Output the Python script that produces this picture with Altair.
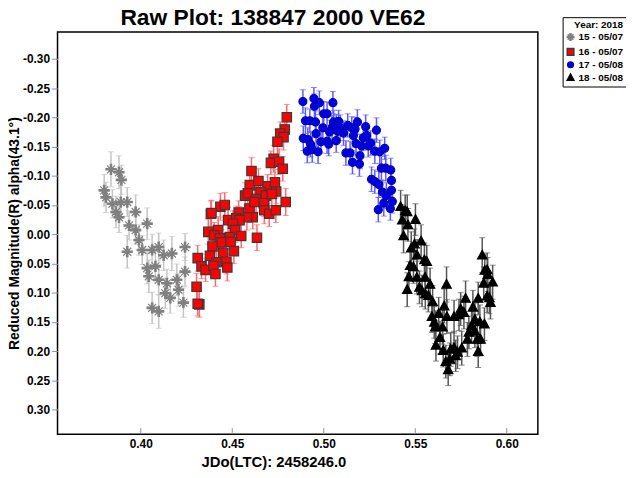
import altair as alt
import pandas as pd

series_labels = ["15 - 05/07", "16 - 05/07", "17 - 05/08", "18 - 05/08"]

# (JD offset, reduced magnitude, error)
s15 = [
    (0.3837, -0.111, 0.030), (0.3881, -0.106, 0.028), (0.3894, -0.093, 0.025), (0.3800, -0.075, 0.027),
    (0.3810, -0.063, 0.026), (0.3845, -0.052, 0.024), (0.3891, -0.055, 0.028), (0.3926, -0.055, 0.025),
    (0.3864, -0.038, 0.027), (0.3881, -0.029, 0.026), (0.3972, -0.038, 0.029), (0.3936, -0.015, 0.025),
    (0.4035, -0.018, 0.027), (0.3972, -0.007, 0.024), (0.3990, 0.010, 0.026), (0.3926, 0.030, 0.028),
    (0.4008, 0.027, 0.025), (0.4062, 0.027, 0.027), (0.4098, 0.022, 0.024), (0.4125, 0.036, 0.026),
    (0.4170, 0.033, 0.029), (0.4242, 0.022, 0.023), (0.4035, 0.058, 0.027), (0.4080, 0.055, 0.025),
    (0.4044, 0.072, 0.028), (0.4098, 0.078, 0.026), (0.4143, 0.084, 0.024), (0.4197, 0.078, 0.027),
    (0.4242, 0.064, 0.025), (0.4134, 0.101, 0.026), (0.4206, 0.095, 0.028), (0.4233, 0.117, 0.025),
    (0.4062, 0.126, 0.027), (0.4098, 0.132, 0.029), (0.4161, 0.109, 0.026),
]
s16 = [
    (0.4798, -0.200, 0.022), (0.4787, -0.179, 0.021), (0.4762, -0.172, 0.020), (0.4780, -0.166, 0.022),
    (0.4747, -0.158, 0.021), (0.4726, -0.129, 0.023), (0.4711, -0.122, 0.020), (0.4756, -0.124, 0.022),
    (0.4776, -0.112, 0.021), (0.4605, -0.108, 0.023), (0.4596, -0.084, 0.022), (0.4643, -0.091, 0.021),
    (0.4693, -0.082, 0.020), (0.4733, -0.089, 0.022), (0.4740, -0.073, 0.021), (0.4792, -0.055, 0.023),
    (0.4570, -0.066, 0.022), (0.4585, -0.070, 0.021), (0.4654, -0.072, 0.020), (0.4630, -0.060, 0.022),
    (0.4684, -0.066, 0.021), (0.4672, -0.053, 0.023), (0.4716, -0.069, 0.020), (0.4594, -0.044, 0.022),
    (0.4621, -0.055, 0.021), (0.4675, -0.041, 0.023), (0.4702, -0.035, 0.022), (0.4738, -0.041, 0.021),
    (0.4612, -0.029, 0.020), (0.4580, -0.029, 0.022), (0.4435, -0.047, 0.023), (0.4459, -0.050, 0.021),
    (0.4383, -0.035, 0.022), (0.4535, -0.037, 0.020), (0.4477, -0.024, 0.022), (0.4522, -0.027, 0.021),
    (0.4540, -0.024, 0.023), (0.4504, -0.018, 0.022), (0.4516, -0.007, 0.021), (0.4549, 0.003, 0.020),
    (0.4635, 0.006, 0.022), (0.4369, -0.004, 0.021), (0.4423, -0.007, 0.023), (0.4401, 0.002, 0.022),
    (0.4432, 0.007, 0.021), (0.4486, 0.005, 0.020), (0.4441, 0.014, 0.022), (0.4491, 0.013, 0.021),
    (0.4392, 0.021, 0.023), (0.4450, 0.032, 0.022), (0.4509, 0.029, 0.021), (0.4378, 0.037, 0.020),
    (0.4413, 0.048, 0.022), (0.4468, 0.047, 0.021), (0.4473, 0.057, 0.023), (0.4311, 0.041, 0.022),
    (0.4332, 0.055, 0.021), (0.4354, 0.061, 0.020), (0.4397, 0.054, 0.022), (0.4408, 0.068, 0.021),
    (0.4305, 0.090, 0.023), (0.4320, 0.120, 0.022), (0.4311, 0.119, 0.021), (0.4386, -0.036, 0.022),
]
s17 = [
    (0.4886, -0.227, 0.020), (0.4946, -0.232, 0.019), (0.4949, -0.219, 0.021), (0.4976, -0.225, 0.020),
    (0.5050, -0.225, 0.019), (0.5000, -0.206, 0.021), (0.5018, -0.206, 0.020), (0.4900, -0.194, 0.022),
    (0.4924, -0.194, 0.020), (0.4955, -0.192, 0.019), (0.4995, -0.182, 0.021), (0.5054, -0.192, 0.020),
    (0.5081, -0.193, 0.019), (0.5045, -0.182, 0.021), (0.5068, -0.185, 0.020), (0.5090, -0.182, 0.022),
    (0.5131, -0.186, 0.020), (0.5153, -0.182, 0.019), (0.5184, -0.192, 0.021), (0.5229, -0.184, 0.020),
    (0.5288, -0.178, 0.021), (0.5171, -0.180, 0.020), (0.4958, -0.172, 0.022), (0.5032, -0.175, 0.020),
    (0.5077, -0.176, 0.019), (0.5108, -0.173, 0.021), (0.5162, -0.169, 0.020), (0.5216, -0.165, 0.022),
    (0.5234, -0.169, 0.020), (0.4888, -0.164, 0.021), (0.4913, -0.162, 0.020), (0.4985, -0.158, 0.019),
    (0.5018, -0.159, 0.021), (0.5068, -0.160, 0.020), (0.4928, -0.154, 0.022), (0.5027, -0.154, 0.020),
    (0.5176, -0.155, 0.021), (0.5207, -0.151, 0.020), (0.5243, -0.151, 0.019), (0.5256, -0.156, 0.021),
    (0.4910, -0.142, 0.020), (0.4937, -0.145, 0.022), (0.4969, -0.141, 0.020), (0.5279, -0.142, 0.021),
    (0.5306, -0.141, 0.020), (0.5333, -0.147, 0.019), (0.5121, -0.139, 0.021), (0.5144, -0.139, 0.020),
    (0.5198, -0.134, 0.022), (0.5157, -0.123, 0.020), (0.5195, -0.120, 0.021), (0.5315, -0.113, 0.020),
    (0.5339, -0.113, 0.022), (0.5366, -0.110, 0.020), (0.5261, -0.094, 0.021), (0.5279, -0.090, 0.020),
    (0.5301, -0.085, 0.022), (0.5370, -0.092, 0.021), (0.5321, -0.072, 0.020), (0.5342, -0.066, 0.022),
    (0.5370, -0.075, 0.021), (0.5375, -0.056, 0.020), (0.5328, -0.053, 0.022), (0.5298, -0.042, 0.021),
    (0.5364, -0.044, 0.020),
]
s18 = [
    (0.5420, -0.047, 0.028), (0.5445, -0.040, 0.027), (0.5456, -0.038, 0.029), (0.5429, -0.024, 0.026),
    (0.5460, -0.016, 0.028), (0.5501, -0.025, 0.027), (0.5436, 0.003, 0.029), (0.5478, 0.024, 0.028),
    (0.5496, 0.017, 0.026), (0.5532, 0.012, 0.028), (0.5510, 0.036, 0.027), (0.5550, 0.044, 0.029),
    (0.5563, 0.047, 0.028), (0.5472, 0.054, 0.027), (0.5490, 0.056, 0.028), (0.5465, 0.073, 0.026),
    (0.5509, 0.074, 0.028), (0.5554, 0.074, 0.027), (0.5456, 0.095, 0.029), (0.5523, 0.091, 0.028),
    (0.5537, 0.097, 0.027), (0.5581, 0.086, 0.028), (0.5555, 0.102, 0.026), (0.5572, 0.105, 0.028),
    (0.5671, 0.086, 0.030), (0.5595, 0.116, 0.028), (0.5658, 0.123, 0.029), (0.5591, 0.141, 0.027),
    (0.5628, 0.136, 0.028), (0.5673, 0.141, 0.029), (0.5712, 0.141, 0.028), (0.5739, 0.138, 0.027),
    (0.5766, 0.134, 0.028), (0.5775, 0.110, 0.030), (0.5748, 0.128, 0.028), (0.5815, 0.125, 0.029),
    (0.5844, 0.110, 0.028), (0.5604, 0.151, 0.027), (0.5609, 0.159, 0.028), (0.5649, 0.159, 0.029),
    (0.5635, 0.177, 0.028), (0.5613, 0.190, 0.027), (0.5653, 0.199, 0.028), (0.5694, 0.197, 0.029),
    (0.5712, 0.194, 0.028), (0.5721, 0.208, 0.027), (0.5731, 0.202, 0.028), (0.5754, 0.195, 0.029),
    (0.5667, 0.218, 0.028), (0.5680, 0.232, 0.027), (0.5689, 0.214, 0.028), (0.5785, 0.180, 0.029),
    (0.5793, 0.168, 0.028), (0.5808, 0.157, 0.027), (0.5826, 0.166, 0.028), (0.5839, 0.180, 0.029),
    (0.5857, 0.180, 0.028), (0.5844, 0.201, 0.027), (0.5826, 0.146, 0.028), (0.5853, 0.150, 0.029),
    (0.5878, 0.154, 0.028), (0.5866, 0.036, 0.030), (0.5880, 0.062, 0.028), (0.5893, 0.061, 0.029),
    (0.5874, 0.084, 0.028), (0.5923, 0.082, 0.029), (0.5893, 0.106, 0.028), (0.5905, 0.109, 0.027),
    (0.5911, 0.117, 0.028), (0.5896, 0.069, 0.029),
]

x_ticks = [0.40, 0.45, 0.50, 0.55, 0.60]
y_ticks = [-0.30, -0.25, -0.20, -0.15, -0.10, -0.05, 0.00, 0.05, 0.10, 0.15, 0.20, 0.25, 0.30]

fills = ["#808080", "#ff0000", "#0000e0", "#000000"]
strokes = ["#808080", "#3a3a3a", "#0000b0", "#000000"]
err_colors = ["#c4c4c4", "#ff6a6a", "#5a5aff", "#555555"]
asterisk = "M0,-1.2L0,1.2M-1.2,0L1.2,0M-0.85,-0.85L0.85,0.85M-0.85,0.85L0.85,-0.85M-0.15,-1.2L-0.15,1.2M0.15,-1.2L0.15,1.2M-1.2,-0.15L1.2,-0.15M-1.2,0.15L1.2,0.15"
square = "M-1,-1L1,-1L1,1L-1,1Z"
circle = "M-0.85,0A0.85,0.85 0 1,0 0.85,0A0.85,0.85 0 1,0 -0.85,0Z"
triangle = "M0,-1.05L1,0.8L-1,0.8Z"
shapes = [asterisk, square, circle, triangle]

rows = []
for lab, pts in zip(series_labels, [s15, s16, s17, s18]):
    for x, y, e in pts:
        rows.append({"series": lab, "jd": x, "mag": y, "lo": y - e, "hi": y + e})
df = pd.DataFrame(rows)
ticks_df = pd.DataFrame({"t": x_ticks})

FONT = "Liberation Sans"
xscale = alt.Scale(domain=[0.3545, 0.617], zero=False, nice=False)
yscale = alt.Scale(domain=[-0.3458, 0.342], zero=False, nice=False, reverse=True)

xaxis = alt.Axis(
    title="JDo(LTC): 2458246.0", values=x_ticks, format=".2f", ticks=False,
    domain=False, grid=False, labelPadding=5, labelFontSize=12, labelFontWeight="bold",
    labelColor="black", titleFontSize=15, titleFontWeight="bold", titleColor="black",
    titlePadding=5, titleX=218, labelFont=FONT, titleFont=FONT,
)
yaxis = alt.Axis(
    title="Reduced Magnitude(R) alpha(43.1°)", values=y_ticks,
    labelExpr="replace(format(datum.value, '.2f'), '\u2212', '-')",
    ticks=True, tickSize=6, tickColor="#909090", tickWidth=1,
    domain=False, grid=False, labelPadding=2, labelFontSize=12, labelFontWeight="bold",
    labelColor="black", titleFontSize=14, titleFontWeight="bold", titleColor="black",
    titlePadding=1, labelFont=FONT, titleFont=FONT,
)

legend_title = "Year: 2018"
base = alt.Chart(df)

layers = []
for lab, ecol in zip(series_labels, err_colors):
    sub = base.transform_filter(alt.datum.series == lab)
    layers.append(sub.mark_rule(strokeWidth=1.5, color=ecol).encode(
        x=alt.X("jd:Q", scale=xscale, axis=xaxis),
        y=alt.Y("lo:Q", scale=yscale, axis=yaxis),
        y2="hi:Q",
    ))
    for end in ["lo", "hi"]:
        layers.append(sub.mark_tick(orient="horizontal", size=6, thickness=1, color=ecol).encode(
            x=alt.X("jd:Q", scale=xscale, axis=xaxis),
            y=alt.Y(end + ":Q", scale=yscale, axis=yaxis),
        ))

points = base.mark_point(filled=True, size=90, strokeWidth=1.2, opacity=1).encode(
    x=alt.X("jd:Q", scale=xscale, axis=xaxis),
    y=alt.Y("mag:Q", scale=yscale, axis=yaxis),
    color=alt.Color("series:N", scale=alt.Scale(domain=series_labels, range=fills), title=legend_title),
    shape=alt.Shape("series:N", scale=alt.Scale(domain=series_labels, range=shapes), title=legend_title),
    stroke=alt.Stroke("series:N", scale=alt.Scale(domain=series_labels, range=strokes), title=legend_title),
)
layers.append(points)
inner_ticks = alt.Chart(ticks_df).mark_rule(color="#909090", strokeWidth=1).encode(
    x=alt.X("t:Q", scale=xscale, axis=xaxis),
    y=alt.value(400),
    y2=alt.value(406),
)
layers.append(inner_ticks)

chart = alt.layer(*layers).properties(
    width=485,
    height=406,
    autosize="none",
    padding={"left": 50, "top": 22, "right": 89, "bottom": 40},
    title=alt.TitleParams(
        "Raw Plot: 138847 2000 VE62", fontSize=23, font=FONT, fontWeight="bold",
        color="black", anchor="middle", offset=-13, dx=-25,
    ),
).configure(
    font=FONT
).configure_view(
    stroke="black", strokeWidth=1.5
).configure_legend(
    orient="none", legendX=510, legendY=-15, strokeColor="black", fillColor="white",
    padding=3, cornerRadius=0, titleFontSize=10, titleFontWeight="bold", titleColor="black",
    labelFontSize=10, labelFontWeight="bold", labelColor="black", symbolSize=45,
    rowPadding=0, titlePadding=2, labelOffset=3, titleAnchor="end", titleFont=FONT, labelFont=FONT,
)

chart.save("out.html", embed_options={"renderer": "svg", "actions": False})
